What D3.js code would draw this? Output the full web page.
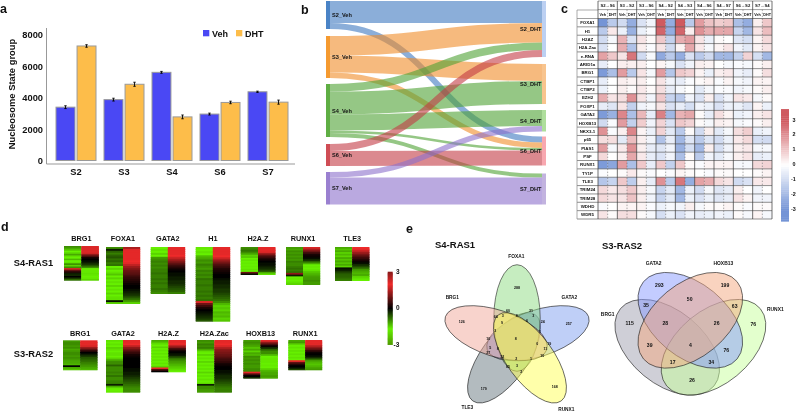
<!DOCTYPE html>
<html><head><meta charset="utf-8">
<script src="https://cdn.jsdelivr.net/npm/d3@7"></script>
<style>html,body{margin:0;padding:0;background:#fff}svg{display:block;filter:blur(0.35px)}text{font-family:"Liberation Sans",Arial,sans-serif;font-weight:bold;fill:#111}</style>
</head><body><svg id="c" width="798" height="412"></svg>
<script>
// ---------- panel a
const barCategories=["S2","S3","S4","S6","S7"];
const barSeries=["Veh","DHT"];
const vehValues=[3400,3880,5620,2960,4380];
const dhtValues=[7300,4860,2780,3700,3720];
const vehErrors=[90,90,60,60,40];
const dhtErrors=[80,130,120,80,130];
const barTicks=[0,2000,4000,6000,8000];
// ---------- panel b
const sankeyStates=["S2","S3","S4","S6","S7"];
const linkSource=[0,0,1,1,1,2,2,2,2,2,3,3,4,4];
const linkTarget=[0,3,0,1,3,0,1,2,3,4,0,3,2,4];
const linkValue=[22,6,19.5,17,5.5,7.5,23,16,2.5,4,7,15,5.5,27];
// ---------- panel c
const tableGroups=["S2→S6","S3→S2","S3→S6","S4→S2","S4→S3","S4→S6","S4→S7","S6→S2","S7→S4"];
const tableConds=["Veh","DHT"];
const tableRows=["FOXA1","H1","H2AZ","H2A.Zac","e-RNA","ARID1a","BRG1","CTBP1","CTBP2","EZH2","FOXP1","GATA2","HOXB13","NKX3-1","p65","PIAS1","PSF","RUNX1","TY1P","TLE3","TRIM24","TRIM28","WDHD","WDR5"];
const tableValues=[
[-3,-1.5,-1,-2.3,-.8,-.3,3,-2.3,3,-1.5,1.8,1.1,.9,1,-1.8,-2.3,.3,1],
[-1.5,.4,-.4,-2.2,-.4,-.1,2.8,-2.3,2.8,.3,2,1.5,1.6,1.6,-1.2,-2,.5,1.2],
[-1,-.2,1.4,-.8,.5,.1,1,-1.3,1.5,1.8,.5,-.4,.1,0,-.7,-.9,.2,.7],
[-.8,0,1.5,-1.7,.3,-.1,.5,-1,.2,1.6,.4,-.2,.2,.5,-.3,-.6,.2,.5],
[1.7,1,.5,2.5,-1,-.2,-2.4,-1.5,-2.3,-.8,-1.5,-1,-2,-2,-1.3,.8,-.9,-2],
[-.5,0,.3,.3,.3,0,.2,-.2,-.8,-.3,.3,.2,0,-.2,-.1,-.2,.1,.3],
[-2.8,-1.8,1.8,-1.5,.5,-.2,1.8,-1.6,1,.8,.2,-.4,.3,.4,-.3,-.5,.1,.6],
[-.5,0,.3,.2,.3,0,.5,-.3,-.5,-.1,.1,.2,-.1,.2,-.2,-.3,.2,.2],
[-.4,0,.3,.1,.4,.1,.6,-.5,-.2,0,-.6,-.2,-.1,-.1,-.3,-.2,.1,.3],
[1.5,.5,.6,2,.5,-.3,1,-1.2,-1.5,-.3,-.8,.3,-.8,-.3,.5,.4,-.2,.1],
[-.5,-.7,.5,-1.3,-.3,-.2,.5,-.8,-.5,-.9,-.3,-.4,-.8,-.4,-.4,-.7,.2,-.4],
[-2.8,-2.2,2.2,-1.8,1.3,-.5,2.3,-2,1.4,1.6,.1,-.5,.6,.2,-.4,-.3,.3,.5],
[-1,-.1,1.8,-1.3,.9,-.3,.8,-.8,1,.8,.1,-.2,.3,.2,-.2,-.1,.1,.3],
[2,-.1,.3,2.2,.2,-.4,.8,-.6,-1.5,.1,-1,.3,-.6,-.2,.6,.9,-.4,-.3],
[.6,.6,-.6,1.2,.3,-.3,-1.7,-.5,-2,-.7,-1.5,-.7,-1,-.4,.4,.7,-.9,-1],
[1.8,-.2,.4,2,.3,-.5,-.7,-.3,-2.2,-.9,-2,.3,-.9,-.3,.3,.4,-.2,-.2],
[.7,0,.3,1.6,.4,-.5,-.8,-.3,-1.8,.1,-1.5,-.3,-.6,-.2,.3,.5,-.5,-.4],
[-2.8,-2.5,1.8,-1.8,1,-.5,1,-1.3,1,.1,-.1,.2,.2,.2,-.2,-.2,.7,.8],
[-.1,0,.1,.4,.1,-.1,0,-.1,.2,.1,0,-.1,.1,.1,0,0,.1,.2],
[-1.6,-1.2,1,-1.4,.3,-.5,2,-1.5,2.5,-2.3,1.7,1.5,.7,.5,-1,-.8,.4,.4],
[.7,.4,.6,1,.3,-.2,-1.2,-.6,-2,-.4,-1,-.2,-.7,-.5,.3,0,-.3,0],
[.7,.5,.5,1.1,.3,-.3,-1.2,-.6,-2,-.4,-.8,-.4,-.7,-.5,.5,.2,-.3,-.3],
[-.1,0,.2,.2,.2,-.1,-.4,-.2,-.3,.3,-.2,.1,.1,.2,.1,-.1,.1,.1],
[.5,.1,.6,.6,.1,-.2,-.9,-.4,-.8,-.3,-.5,-.4,-.3,-.4,.1,-.2,.2,-.2]];
const tableLegendTicks=[3,2,1,0,-1,-2,-3];
// ---------- panel d
const s4Names=["BRG1","FOXA1","GATA2","H1","H2A.Z","RUNX1","TLE3"];
const s3Names=["BRG1","GATA2","H2A.Z","H2A.Zac","HOXB13","RUNX1"];
const s4Left=[
[-1,-1.2,-1.4,-1.7,-1.5,-1.2,-1.6,-1.7,-1.3,-1.7,-1.6,-1,-1.5,-1,2.2,.8,.3,-.2,-.3,0,-.4,-.8],
[-1,-.2,-.7,-.9,-.7,-.6,-.8,-.7,-.9,-.8,-1.7,-1.5,-1.7,-1.6,-1.4,-1.7,-1.5,-1.7,-1.6,-1.7,-1.5,-1.7,-1.6,-1.7,-1.5,-1.7,-1.6,-1.6,-.1,-1.5],
[-1.7,-1.6,-1.7,-1.5,-1.7,-1.1,-1,-.9,-1,-.9,-1,-.9,-.9,-.8,-.9,-.9,-.8,-.9,-.8,-.9,-.9,-.8,-.9,-1],
[-1.8,-1.7,-1.6,-1.7,-1.3,-1.2,-1,-1.1,-.9,-1,-1.1,-.9,-1,-.9,-1,-.8,-.9,-.9,-.8,-.9,-.9,-.8,-.9,-.8,-.9,-.8,2.2,.9,.5,.2,0,-.1,-.2,-.3,-.4,-.6],
[-1,-.9,-.8,-1,-1.2,-1.5,-1.4,-1.7,-1.6,-1.7,-1.8,-1.7,-1.8,-1.7,-1.6,-1.7,.9,-.1],
[-1.1,-1.2,-1,-1.1,-1,-1.1,-1,-1.1,-.9,-1,-1,-.9,-.8,-.9,-.8,1.2,-.2,-1.7,-1.8,-1.7,-1.6,-1.5],
[-1.2,-1.4,-1.2,-1.5,-1.3,-1.5,-1.2,-1.4,-1.2,-1.4,-1.2,-1.5,-.1,-.2,-.4,-.6,-.7,-.7,-.8,-.9]];
const s4Right=[
[2.2,2.2,2.2,2.2,1.8,1.2,.6,.2,0,-.1,-.2,-.4,-.6,-1,-1.7,-1.8,-1.8,-1.6,-1.8,-1.7,-1.8,-1.5],
[1.4,1.9,2.1,2.1,2.1,2.1,2.1,2,1.9,1.6,1.3,1.1,.9,.8,.7,.5,.4,.3,.2,.1,0,0,-.1,-.2,-.3,-.4,-.6,-.8,-1.1,-1.5],
[2.1,2.1,2.1,2.1,2,1.7,1.4,1.1,.8,.5,.3,.1,0,-.1,-.1,-.2,-.2,-.3,-.3,-.4,-.5,-.6,-.7,-.9],
[2.1,2.1,2.1,2.1,2,1.7,1.3,1,.7,.5,.3,.2,.1,0,0,-.1,-.2,-.2,-.3,-.3,-.4,-.4,-.5,-.6,-.7,-.8,-1,-1.3,-1.5,-1.4,-1.5,-1.3,-1.4,-1.3,-1.5,-1.4],
[2.1,2.1,2.1,1.8,1.2,.8,.5,.3,.1,0,-.1,-.1,-.2,-.3,-.4,-.6,-1.2,-1.6],
[1.8,1.4,.9,.5,.2,.1,-.1,-.3,-.7,-1.2,-1.7,-1.8,-1.7,-1.6,-1.4,-1.3,-1.2,-1.1,-1.1,-1,-1.1,-1.1],
[2,1.9,1.6,1.3,1,.7,.5,.3,.1,-.1,-.3,-.5,-.8,-1.1,-1.2,-1.3,-1.2,-1.5,-1.6,-1.7]];
const s3Left=[
[-1.1,-1,-1,-1.1,-1,-1.2,-1.1,-1,-1,-1.1,-1,-1.1,-1.2,-1.2,-1.3,0,-1.2,-1.4],
[-1.6,-1.7,-1.6,-1.7,-1.5,-1.6,-1.7,-1.6,-1.6,-1.7,-1.5,-1.2,-1,-1,-.7,-1,-1,-1,-.9,-1,-.8,-1,-1,-.9,-.9,-.2,-1.2,-1.8,-1.7,-1.8],
[-1.2,-1.4,-1.6,-1.7,-1.5,-1.7,-1.6,-1.7,-1.6,-1.7,-1.6,-1.7,-1.6,-1.7,-1.6,-1.7,-1.5,2.1,.6,0],
[-1,-1.1,-.9,-1,-.9,-1.2,-1.6,-1.7,-1.5,-1.7,-1.6,-1.7,-1.5,-1.7,-1.6,-1.7,-1.6,-1.7,-1.5,-1.7,-1.6,-1.7,-1.6,-1.7,-1.8,-.2,-1,-1,-1.1,-1.1],
[-1.1,-1,-1.1,-1.2,-1.4,-1.2,-1.5,-1.2,-1.3,-1,-1.1,-1,-1.1,-1,-1.1,-1.1,-1,-1,1.9,.6,0,-.3],
[-1.2,-1.1,-1.5,-1.7,-1.6,-1.7,-1.6,-1.7,-1.6,-1.7,-1.6,-1.7,2,.8,.3,0,-.1,-.5]];
const s3Right=[
[2.1,2.1,2.1,1.8,1.3,.8,.3,0,-.2,-.4,-.6,-.7,-.8,-.9,-1,-1.1,-1.2,-1.3],
[2.1,2.1,2,1.6,1.2,.9,.6,.4,.2,.1,0,0,0,0,0,0,-.1,-.1,-.2,-.2,-.3,-.4,-.5,-.6,-.7,-.8,-.9,-1,-1,-1],
[2.1,2.1,2,1.6,1.1,.6,.2,0,-.1,-.2,-.5,-.8,-1,-1.1,-1.2,-1.3,-1.4,-1.5,-1.6,-1.7],
[2.1,2.1,2,1.8,1.5,1.2,1.1,1,.9,.8,.6,.5,.4,.2,.1,0,0,-.1,-.1,-.2,-.3,-.3,-.4,-.5,-.6,-.7,-.8,-.9,-.9,-.9],
[1.9,1.2,.6,.1,-.3,-.7,-1,-1,-1.3,-1.7,-1.8,-1.8,-1.8,-1.7,-1.8,-1.7,-1.5,-1.3,-1.2,-1.2,-1.1,-1.2],
[2.1,2.1,1.9,1.6,1.2,.8,.4,.1,0,-.1,-.3,-.8,-1.2,-1.3,-1.4,-1.3,-1.2,-1.1]];
const heatLegendTicks=[3,0,-3];
// ---------- panel e
const venn5Names=["FOXA1","GATA2","RUNX1","TLE3","BRG1"];
const venn5Counts=["288","126","257","168","179","60","3","8","31","3","64","9","6","24","3","1","10","8","0","19","5","8","11","27","32","10","2","1","65","3","2"];
const venn4Names=["GATA2","HOXB13","BRG1","RUNX1"];
const venn4Counts=["293","199","50","35","63","115","28","26","76","39","4","76","17","34","26"];

// ---------- layout (kept apart from the values)
const svg=d3.select("#c");
function letter(t,x,y){svg.append("text").text(t).attr("x",x).attr("y",y).attr("font-size",12.5);}
letter("a",0,13);letter("b",301,14);letter("c",561,12.5);letter("d",1,231);letter("e",406,232.5);

// panel a
(function(){
 const g=svg.append("g");
 const x=d3.scaleBand().domain(barCategories).range([52,292]);
 const xi=d3.scaleBand().domain(barSeries).range([4,44]).paddingInner(.1);
 const y=d3.scaleLinear().domain([0,8000]).range([160.5,35]);
 const col={Veh:"#4a48f4",DHT:"#fdbd4a"};
 const sers={Veh:[vehValues,vehErrors],DHT:[dhtValues,dhtErrors]};
 barSeries.forEach(s=>{
  barCategories.forEach((c,i)=>{
   const v=sers[s][0][i],e=sers[s][1][i],bx=x(c)+xi(s),w=xi.bandwidth();
   g.append("rect").attr("x",bx).attr("y",y(v)).attr("width",w).attr("height",y(0)-y(v)).attr("fill",col[s]).attr("stroke","#9a9a9a").attr("stroke-width",1);
   const cx=bx+w/2;
   g.append("path").attr("d",`M${cx-1.2},${y(v+e)}H${cx+1.2}M${cx},${y(v+e)}V${y(v-e)}M${cx-1.2},${y(v-e)}H${cx+1.2}`).attr("stroke","#000").attr("stroke-width",.9).attr("fill","none");
  });
 });
 g.append("path").attr("d","M46.5,28V164H295").attr("stroke","#999").attr("fill","none").attr("stroke-width",1);
 const ay=g.append("g").attr("transform","translate(44,0)").call(d3.axisLeft(y).tickValues(barTicks).tickFormat(d3.format("d")).tickSize(0).tickPadding(1));
 ay.select(".domain").remove();ay.selectAll("text").attr("font-size",9.3).style("font-family",'"Liberation Sans"');
 const ax=g.append("g").attr("transform","translate(0,165)").call(d3.axisBottom(x).tickSize(0).tickPadding(3));
 ax.select(".domain").remove();ax.selectAll("text").attr("font-size",9.3).style("font-family",'"Liberation Sans"');
 g.append("text").text("Nucleosome State group").attr("transform","translate(14.5,94) rotate(-90)").attr("text-anchor","middle").attr("font-size",9.4);
 const lx=d3.scalePoint().domain(barSeries).range([203,236]);
 barSeries.forEach(s=>{
  g.append("rect").attr("x",lx(s)).attr("y",30).attr("width",6.3).attr("height",6.3).attr("fill",col[s]);
  g.append("text").text(s).attr("x",lx(s)+9).attr("y",37).attr("font-size",9);
 });
})();

// panel b
(function(){
 const g=svg.append("g");
 const colL=["#4a83c6","#f59a30","#5fae44","#cf4d55","#9a80d0"];
 const colR=["#bcd0f2","#f8c48e","#aede9c","#f8a8b0","#c2b3df"];
 const linkC=["#3d78c0","#f08c28","#4ea234","#c33a44","#8c70cc"];
 const gapsL=[7,6,7,6],gapsR=[7,6,5,8];
 const nodeX0=326,nodeX1=330,nodeR0=542,nodeR1=546;
 const sumBy=(arr)=>sankeyStates.map((_,i)=>d3.sum(linkValue.filter((v,j)=>arr[j]===i)));
 const lv=sumBy(linkSource),rv=sumBy(linkTarget);
 const stack=(vals,gaps)=>{let y=1;return vals.map((v,i)=>{const r=[y,y+v];y+=v+(gaps[i]||0);return r;});};
 const lp=stack(lv,gapsL),rp=stack(rv,gapsR);
 const lcur=lp.map(d=>d[0]),rcur=rp.map(d=>d[0]);
 const link=d3.linkHorizontal();
 linkValue.forEach((v,j)=>{
  const s=linkSource[j],t=linkTarget[j];
  const y0=lcur[s]+v/2,y1=rcur[t]+v/2;lcur[s]+=v;rcur[t]+=v;
  g.append("path").attr("d",link({source:[nodeX1,y0],target:[nodeR0,y1]})).attr("fill","none").attr("stroke",linkC[s]).attr("stroke-opacity",.6).attr("stroke-width",v);
 });
 sankeyStates.forEach((s,i)=>{
  g.append("rect").attr("x",nodeX0).attr("y",lp[i][0]).attr("width",nodeX1-nodeX0).attr("height",lv[i]).attr("fill",colL[i]);
  g.append("rect").attr("x",nodeR0).attr("y",rp[i][0]).attr("width",nodeR1-nodeR0).attr("height",rv[i]).attr("fill",colR[i]);
  g.append("text").text(s+"_Veh").attr("x",332).attr("y",(lp[i][0]+lp[i][1])/2+2).attr("font-size",5.6);
  g.append("text").text(s+"_DHT").attr("x",541.5).attr("text-anchor","end").attr("y",(rp[i][0]+rp[i][1])/2+2).attr("font-size",5.6);
 });
})();

// panel c
(function(){
 const g=svg.append("g");
 const cols=tableGroups.flatMap(a=>tableConds.map(b=>a+b));
 const x=d3.scaleBand().domain(cols).range([598,772]);
 const y=d3.scaleBand().domain(tableRows).range([18.5,219]);
 const c=d3.scaleLinear().domain([-3,0,3]).range(["#7494d6","#ffffff","#cf5a60"]);
 tableValues.forEach((row,i)=>row.forEach((v,j)=>{
  g.append("rect").attr("x",x(cols[j])).attr("y",y(tableRows[i])).attr("width",x.bandwidth()).attr("height",y.bandwidth()).attr("fill",c(v));
 }));
 [1,9.6,18.5].forEach(v=>g.append("line").attr("x1",598).attr("x2",772).attr("y1",v).attr("y2",v).attr("stroke","#777").attr("stroke-width",.7));
 tableRows.forEach((r,i)=>{
  g.append("line").attr("x1",577).attr("x2",772).attr("y1",y(r)+y.bandwidth()).attr("y2",y(r)+y.bandwidth()).attr("stroke","#444").attr("stroke-width",.6);
  g.append("text").text(r).attr("x",587.5).attr("y",y(r)+y.bandwidth()/2+1.6).attr("text-anchor","middle").attr("font-size",4.4);
 });
 g.append("line").attr("x1",577).attr("x2",772).attr("y1",18.5).attr("y2",18.5).attr("stroke","#777").attr("stroke-width",.7);
 g.append("line").attr("x1",577).attr("x2",577).attr("y1",10).attr("y2",219).attr("stroke","#888").attr("stroke-width",.7);
 g.append("line").attr("x1",577).attr("x2",598).attr("y1",10).attr("y2",10).attr("stroke","#888").attr("stroke-width",.7);
 const gw=2*x.bandwidth();
 tableGroups.forEach((t,i)=>{
  const gx=598+i*gw;
  g.append("line").attr("x1",gx).attr("x2",gx).attr("y1",1).attr("y2",219).attr("stroke","#333").attr("stroke-width",.7);
  g.append("line").attr("x1",gx+gw/2).attr("x2",gx+gw/2).attr("y1",9.6).attr("y2",219).attr("stroke","#555").attr("stroke-width",.5).attr("stroke-dasharray","1.5,1.5");
  g.append("text").text(t).attr("x",gx+gw/2).attr("y",6.8).attr("text-anchor","middle").attr("font-size",4.2);
  tableConds.forEach((k,m)=>g.append("text").text(k).attr("x",gx+gw/4+m*gw/2).attr("y",15.8).attr("text-anchor","middle").attr("font-size",3.7));
 });
 g.append("line").attr("x1",772).attr("x2",772).attr("y1",1).attr("y2",219).attr("stroke","#333").attr("stroke-width",.7);
 const ly=d3.scaleLinear().domain([3,-3]).range([119.5,209]);
 const ramp=d3.range(0,60).map(i=>3.7-7.4*i/59);
 ramp.forEach(v=>g.append("rect").attr("x",781).attr("y",ly(v)).attr("width",8).attr("height",2.2).attr("fill",c(Math.max(-3,Math.min(3,v)))));
 tableLegendTicks.forEach(t=>g.append("text").text(t).attr("x",794).attr("y",ly(t)+2).attr("font-size",5.4).attr("text-anchor",t<0?"start":"middle").attr("dx",t<0?-3:0));
})();

// panel d
(function(){
 const g=svg.append("g");
 const c=d3.scaleLinear().domain([-3,-1.7,0,2,3]).range(["#4f9a00","#66f000","#000000","#ee2a2a","#8b1a1a"]);
 function heat(name,left,right,x0,x1,y0,y1,ty){
  const xs=d3.scaleBand().domain(["L","R"]).range([x0,x1]);
  [["L",left],["R",right]].forEach(([k,vals])=>{
   const y=d3.scaleBand().domain(d3.range(vals.length)).range([y0,y1]);
   vals.forEach((v,i)=>g.append("rect").attr("x",xs(k)).attr("y",y(i)).attr("width",xs.bandwidth()+.2).attr("height",i<vals.length-1?y.bandwidth()+1:y.bandwidth()).attr("fill",c(v)));
  });
  g.append("text").text(name).attr("x",(x0+x1)/2).attr("y",ty).attr("text-anchor","middle").attr("font-size",7.3);
 }
 const x4=[[64,98.7],[106,140],[150.7,185],[195.7,230],[240.7,275.3],[286,320],[335,369.3]];
 const b4=[[246,280.7],[247,304],[247,294],[247,321.7],[247,275],[247,285],[247,281]];
 s4Names.forEach((n,i)=>heat(n,s4Left[i],s4Right[i],x4[i][0],x4[i][1],b4[i][0],b4[i][1],241.3));
 const x3=[[63,97.3],[106,140],[151.3,185.7],[197,231.7],[243.3,277.7],[288.3,322]];
 const b3=[[340.3,370.3],[340,392.7],[340,372.3],[340,392.7],[340,378.7],[340,370.3]];
 s3Names.forEach((n,i)=>heat(n,s3Left[i],s3Right[i],x3[i][0],x3[i][1],b3[i][0],b3[i][1],336.3));
 g.append("text").text("S4-RAS1").attr("x",33.5).attr("y",266).attr("text-anchor","middle").attr("font-size",9.3);
 g.append("text").text("S3-RAS2").attr("x",33.5).attr("y",356.5).attr("text-anchor","middle").attr("font-size",9.3);
 const ly=d3.scaleLinear().domain([3,-3]).range([271.7,344]);
 d3.range(3,-3.001,-.1).forEach(v=>g.append("rect").attr("x",387.7).attr("y",ly(v)).attr("width",5).attr("height",v>-2.95?2:.8).attr("fill",c(v)));
 heatLegendTicks.forEach(t=>g.append("text").text(t).attr("x",t<0?393.5:396).attr("y",ly(t)+2.6).attr("font-size",6.5));
})();

// panel e
(function(){
 const g=svg.append("g");
 g.append("text").text("S4-RAS1").attr("x",435).attr("y",247.5).attr("font-size",9.5);
 g.append("text").text("S3-RAS2").attr("x",602).attr("y",248.5).attr("font-size",9.5);
 const sx5=d3.scaleLinear().domain([0,510]).range([425,595]),sy5=d3.scaleLinear().domain([0,516]).range([240,412]);
 const fills5=["#8ddb82","#80a0f0","#ffff55","#687880","#f2a899"];
 const cx=517,cy=340,a=53.3,b=23.2,off=22;
 [3,1,0,4,2].forEach(i=>{
  const ang=i*72;
  g.append("ellipse").attr("cx",0).attr("cy",-off).attr("rx",b).attr("ry",a).attr("transform",`translate(${cx},${cy}) rotate(${ang})`).attr("fill",fills5[i]).attr("fill-opacity",.5).attr("stroke","#222").attr("stroke-width",.6);
 });
 const labelPos5=[[274,48],[433,173],[424,509],[127,503],[82,173]];
 venn5Names.forEach((n,i)=>g.append("text").text(n).attr("x",sx5(labelPos5[i][0])).attr("y",sy5(labelPos5[i][1])+1.7).attr("text-anchor","middle").attr("font-size",4.8));
 const cnt5=[[276,143],[110,246],[431,252],[389,441],[176,447],[249,211],[233,226],[275,226],[318,211],[325,228],[212,230],[231,249],[306,241],[353,246],[211,271],[345,274],[190,295],[272,295],[337,312],[373,311],[196,322],[218,326],[361,325],[190,337],[232,350],[352,348],[274,357],[318,357],[249,379],[276,378],[289,396]];
 venn5Counts.forEach((t,i)=>g.append("text").text(t).attr("x",sx5(cnt5[i][0])).attr("y",sy5(cnt5[i][1])+1.2).attr("text-anchor","middle").attr("font-size",3.6));

 const sx4=d3.scaleLinear().domain([0,624]).range([590,798]),sy4=d3.scaleLinear().domain([0,516]).range([240,412]);
 const ell=[[690.3,320.3,39.5,"#8899ff"],[690.3,320.3,-39.5,"#f4a880"],[667.2,347.3,39.5,"#a0a0b0"],[713.5,347.3,-39.5,"#c8ff9c"]];
 [2,3,0,1].forEach(i=>{
  const e=ell[i];
  g.append("ellipse").attr("rx",60.7).attr("ry",36.7).attr("transform",`translate(${e[0]},${e[1]}) rotate(${e[2]})`).attr("fill",e[3]).attr("fill-opacity",.5).attr("stroke","#222").attr("stroke-width",.6);
 });
 const labelPos4=[[191,71],[400,71],[53,223],[556,208]];
 venn4Names.forEach((n,i)=>g.append("text").text(n).attr("x",sx4(labelPos4[i][0])).attr("y",sy4(labelPos4[i][1])+1.7).attr("text-anchor","middle").attr("font-size",4.9));
 const cnt4=[[208,137],[405,137],[299,177],[168,197],[434,198],[119,249],[226,251],[380,249],[490,253],[179,316],[301,316],[409,330],[248,366],[364,366],[306,421]];
 venn4Counts.forEach((t,i)=>g.append("text").text(t).attr("x",sx4(cnt4[i][0])).attr("y",sy4(cnt4[i][1])+1.8).attr("text-anchor","middle").attr("font-size",5.1));
})();
</script></body></html>
